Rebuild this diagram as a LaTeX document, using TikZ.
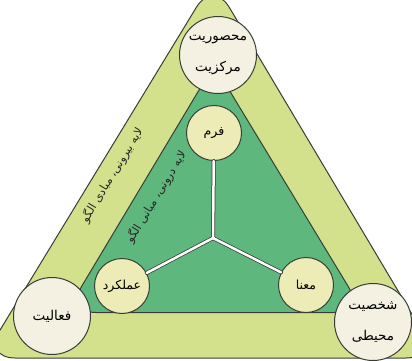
\documentclass[tikz,border=0pt]{standalone}
\usepackage{fontspec}
\newfontfamily\arabicfont[Script=Arabic]{DejaVu Sans}
\TeXXeTstate=1
\definecolor{outergreen}{RGB}{212,225,140}
\definecolor{innergreen}{RGB}{94,184,126}
\definecolor{cream}{RGB}{244,240,226}
\definecolor{paleyellow}{RGB}{238,236,182}
\definecolor{edge}{RGB}{55,60,55}

\begin{document}
\begin{tikzpicture}[x=1pt,y=-1pt,
  rim/.style={draw=edge,line width=1pt},
  outerdisc/.style={rim,circle,fill=cream,minimum size=77pt,inner sep=0pt,
    font=\arabicfont\fontsize{13.5}{31}\selectfont,align=center},
  innerdisc/.style={rim,circle,fill=paleyellow,minimum size=55pt,inner sep=0pt,
    font=\arabicfont\fontsize{12.5}{14}\selectfont},
  layer/.style={font=\arabicfont\fontsize{11.5}{13}\selectfont,rotate=58.6,text=black!85}]

\useasboundingbox (0,0) rectangle (412,361);
\clip (0,0) rectangle (412,361);

\draw[rim,fill=outergreen,rounded corners=32pt] (213,-20) -- (438,358) -- (-17,358) -- cycle;
\draw[rim,fill=innergreen,rounded corners=30pt] (214,65) -- (364,312.5) -- (66,312.5) -- cycle;

\node[outerdisc] (focus) at (218,55) {\beginR محصوریت\endR\\\beginR مرکزیت\endR};
\node[outerdisc] (activity) at (52,316) {\beginR فعالیت\endR};
\node[outerdisc] (persona) at (373,322) {\beginR شخصیت\endR\\\beginR محیطی\endR};

\node[innerdisc] (form) at (214,133) {\beginR فرم\endR};
\node[innerdisc] (function) at (122,286) {\beginR عملکرد\endR};
\node[innerdisc] (meaning) at (306,285) {\beginR معنا\endR};

\coordinate (hub) at (213,238);
\foreach \n in {form,function,meaning}
  \draw[edge,line width=4pt,line cap=round] (hub) -- (\n);
\foreach \n in {form,function,meaning}
  \draw[white,line width=2.5pt,line cap=round] (hub) -- (\n);

\node[layer] (outerlabel) at (112,175) {\beginR لایه بیرونی، مبادی الگو\endR};
\node[layer] (innerlabel) at (156,197) {\beginR لایه درونی، مبانی الگو\endR};

\end{tikzpicture}
\end{document}
